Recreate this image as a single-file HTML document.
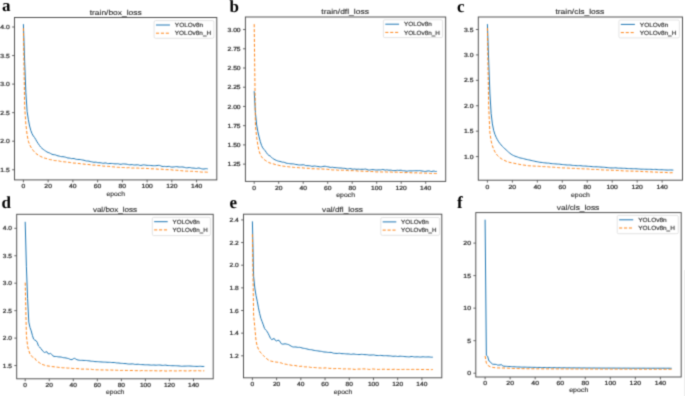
<!DOCTYPE html>
<html><head><meta charset="utf-8"><style>
html,body{margin:0;padding:0;background:#fff;}
svg{display:block;}
text{font-family:"Liberation Sans", sans-serif;fill:#2a2a2a;text-rendering:geometricPrecision;stroke:#2a2a2a;stroke-width:0.22px;}
.ep{stroke-width:0.12px;}
.lt{stroke-width:0.14px;}
.tt{stroke-width:0.12px;}
.ser{font-family:"Liberation Serif", serif;font-weight:bold;fill:#000;stroke:none;}
.bl{fill:none;stroke:#1f77b4;stroke-width:1.0;stroke-opacity:1;}
.or{fill:none;stroke:#ff7f0e;stroke-width:1.0;stroke-dasharray:3.1 1.8;stroke-opacity:0.95;}
.sp{fill:none;stroke:#4a4a4a;stroke-width:0.95;}
.tk{stroke:#4a4a4a;stroke-width:0.85;}
.lg{fill:#fff;fill-opacity:0.8;stroke:#d8d8d8;stroke-width:0.7;}
</style></head><body>
<svg width="685" height="396" viewBox="0 0 685 396">
<defs><filter id="fb" color-interpolation-filters="sRGB" filterUnits="userSpaceOnUse" x="0" y="0" width="685" height="396"><feConvolveMatrix order="3" kernelMatrix="1 4 1 4 16 4 1 4 1" divisor="36" edgeMode="duplicate"/></filter></defs>
<rect width="685" height="396" fill="#fff"/>
<g filter="url(#fb)">
<rect width="685" height="396" fill="#fff"/>
<line x1="684.5" y1="270" x2="684.5" y2="396" stroke="#eeeeee" stroke-width="1"/>
<clipPath id="clipa"><rect x="14.5" y="17.5" width="202.30" height="162.40"/></clipPath>
<g clip-path="url(#clipa)" fill="none" stroke-linejoin="round">
<polyline points="23.40,24.15 24.64,61.26 25.87,92.66 27.11,111.51 28.35,119.65 29.59,126.03 30.82,130.50 32.06,133.73 33.30,135.94 34.53,137.49 35.77,139.57 37.01,141.79 38.24,143.62 39.48,145.45 40.72,147.13 41.95,148.34 43.19,149.32 44.43,150.25 45.67,151.07 46.90,151.91 48.14,152.50 49.38,152.88 50.61,153.53 51.85,154.22 53.09,154.61 54.33,154.71 55.56,154.95 56.80,155.51 58.04,155.88 59.27,156.09 60.51,156.50 61.75,156.69 62.98,156.68 64.22,156.89 65.46,157.16 66.69,157.60 67.93,158.02 69.17,158.03 70.41,158.31 71.64,158.63 72.88,158.53 74.12,158.59 75.35,159.02 76.59,159.35 77.83,159.44 79.06,159.46 80.30,159.50 81.54,159.75 82.78,160.04 84.01,160.26 85.25,160.68 86.49,160.99 87.72,161.00 88.96,161.13 90.20,161.50 91.44,161.76 92.67,162.04 93.91,162.31 95.15,162.17 96.38,162.26 97.62,162.63 98.86,162.74 100.09,162.74 101.33,162.89 102.57,163.23 103.81,163.24 105.04,162.93 106.28,163.09 107.52,163.57 108.75,163.58 109.99,163.46 111.23,163.45 112.46,163.47 113.70,163.70 114.94,163.87 116.18,163.85 117.41,163.74 118.65,163.88 119.89,164.25 121.12,164.29 122.36,163.97 123.60,163.91 124.83,164.02 126.07,164.08 127.31,164.33 128.55,164.64 129.78,164.80 131.02,164.69 132.26,164.61 133.49,164.90 134.73,165.02 135.97,164.91 137.20,164.82 138.44,164.92 139.68,165.30 140.92,165.45 142.15,165.15 143.39,164.89 144.63,164.97 145.86,165.20 147.10,165.35 148.34,165.40 149.57,165.41 150.81,165.48 152.05,165.65 153.29,165.72 154.52,165.69 155.76,165.70 157.00,165.57 158.23,165.36 159.47,165.41 160.71,165.87 161.94,166.40 163.18,166.51 164.42,166.38 165.66,166.52 166.89,166.68 168.13,166.42 169.37,166.42 170.60,166.88 171.84,167.08 173.08,167.03 174.31,166.89 175.55,166.67 176.79,166.65 178.03,166.90 179.26,167.06 180.50,167.02 181.74,166.96 182.97,167.02 184.21,167.28 185.45,167.65 186.68,167.84 187.92,167.75 189.16,167.55 190.40,167.66 191.63,167.98 192.87,168.09 194.11,168.12 195.34,168.34 196.58,168.44 197.82,168.12 199.05,167.97 200.29,168.37 201.53,168.78 202.77,169.01 204.00,169.00 205.24,168.75 206.48,168.68 207.71,168.88" class="bl"/>
<polyline points="23.40,28.14 24.64,106.94 25.87,124.07 27.11,134.92 28.35,141.20 29.59,144.64 30.82,146.97 32.06,148.88 33.30,150.57 34.53,152.05 35.77,153.28 37.01,154.27 38.24,155.07 39.48,155.79 40.72,156.50 41.95,157.06 43.19,157.54 44.43,158.04 45.67,158.37 46.90,158.68 48.14,159.12 49.38,159.49 50.61,159.69 51.85,159.85 53.09,160.17 54.33,160.52 55.56,160.63 56.80,160.65 58.04,160.80 59.27,161.06 60.51,161.39 61.75,161.66 62.98,161.73 64.22,161.83 65.46,161.92 66.69,162.00 67.93,162.21 69.17,162.39 70.41,162.55 71.64,162.77 72.88,163.00 74.12,163.10 75.35,163.13 76.59,163.26 77.83,163.42 79.06,163.50 80.30,163.70 81.54,163.91 82.78,163.97 84.01,164.12 85.25,164.29 86.49,164.34 87.72,164.45 88.96,164.57 90.20,164.72 91.44,164.99 92.67,165.11 93.91,165.08 95.15,165.14 96.38,165.31 97.62,165.49 98.86,165.58 100.09,165.58 101.33,165.68 102.57,165.98 103.81,166.17 105.04,166.17 106.28,166.25 107.52,166.36 108.75,166.37 109.99,166.47 111.23,166.69 112.46,166.80 113.70,166.87 114.94,167.06 116.18,167.23 117.41,167.29 118.65,167.34 119.89,167.38 121.12,167.46 122.36,167.51 123.60,167.53 124.83,167.64 126.07,167.78 127.31,167.78 128.55,167.64 129.78,167.74 131.02,168.02 132.26,168.07 133.49,168.01 134.73,168.06 135.97,168.07 137.20,168.05 138.44,168.14 139.68,168.25 140.92,168.33 142.15,168.34 143.39,168.28 144.63,168.22 145.86,168.33 147.10,168.48 148.34,168.53 149.57,168.68 150.81,168.85 152.05,168.82 153.29,168.80 154.52,168.89 155.76,168.95 157.00,169.05 158.23,169.19 159.47,169.21 160.71,169.13 161.94,169.17 163.18,169.33 164.42,169.55 165.66,169.66 166.89,169.63 168.13,169.66 169.37,169.69 170.60,169.74 171.84,169.85 173.08,170.09 174.31,170.26 175.55,170.20 176.79,170.24 178.03,170.30 179.26,170.37 180.50,170.59 181.74,170.78 182.97,170.89 184.21,171.02 185.45,171.11 186.68,171.14 187.92,171.15 189.16,171.21 190.40,171.29 191.63,171.27 192.87,171.27 194.11,171.38 195.34,171.51 196.58,171.62 197.82,171.66 199.05,171.72 200.29,171.93 201.53,172.08 202.77,172.08 204.00,172.04 205.24,172.07 206.48,172.16 207.71,172.22" class="or"/>
</g>
<rect x="14.5" y="17.5" width="202.30" height="162.40" class="sp"/>
<line x1="23.40" y1="179.9" x2="23.40" y2="182.3" class="tk"/>
<text x="21.52" y="188.12" font-size="5.9" textLength="3.76" lengthAdjust="spacingAndGlyphs">0</text>
<line x1="48.14" y1="179.9" x2="48.14" y2="182.3" class="tk"/>
<text x="44.38" y="188.12" font-size="5.9" textLength="7.53" lengthAdjust="spacingAndGlyphs">20</text>
<line x1="72.88" y1="179.9" x2="72.88" y2="182.3" class="tk"/>
<text x="69.12" y="188.12" font-size="5.9" textLength="7.53" lengthAdjust="spacingAndGlyphs">40</text>
<line x1="97.62" y1="179.9" x2="97.62" y2="182.3" class="tk"/>
<text x="93.86" y="188.12" font-size="5.9" textLength="7.53" lengthAdjust="spacingAndGlyphs">60</text>
<line x1="122.36" y1="179.9" x2="122.36" y2="182.3" class="tk"/>
<text x="118.60" y="188.12" font-size="5.9" textLength="7.53" lengthAdjust="spacingAndGlyphs">80</text>
<line x1="147.10" y1="179.9" x2="147.10" y2="182.3" class="tk"/>
<text x="141.46" y="188.12" font-size="5.9" textLength="11.29" lengthAdjust="spacingAndGlyphs">100</text>
<line x1="171.84" y1="179.9" x2="171.84" y2="182.3" class="tk"/>
<text x="166.20" y="188.12" font-size="5.9" textLength="11.29" lengthAdjust="spacingAndGlyphs">120</text>
<line x1="196.58" y1="179.9" x2="196.58" y2="182.3" class="tk"/>
<text x="190.94" y="188.12" font-size="5.9" textLength="11.29" lengthAdjust="spacingAndGlyphs">140</text>
<line x1="12.1" y1="169.75" x2="14.5" y2="169.75" class="tk"/>
<text x="0.29" y="171.87" font-size="5.9" textLength="9.41" lengthAdjust="spacingAndGlyphs">1.5</text>
<line x1="12.1" y1="141.20" x2="14.5" y2="141.20" class="tk"/>
<text x="0.29" y="143.32" font-size="5.9" textLength="9.41" lengthAdjust="spacingAndGlyphs">2.0</text>
<line x1="12.1" y1="112.65" x2="14.5" y2="112.65" class="tk"/>
<text x="0.29" y="114.77" font-size="5.9" textLength="9.41" lengthAdjust="spacingAndGlyphs">2.5</text>
<line x1="12.1" y1="84.10" x2="14.5" y2="84.10" class="tk"/>
<text x="0.29" y="86.22" font-size="5.9" textLength="9.41" lengthAdjust="spacingAndGlyphs">3.0</text>
<line x1="12.1" y1="55.55" x2="14.5" y2="55.55" class="tk"/>
<text x="0.29" y="57.67" font-size="5.9" textLength="9.41" lengthAdjust="spacingAndGlyphs">3.5</text>
<line x1="12.1" y1="27.00" x2="14.5" y2="27.00" class="tk"/>
<text x="0.29" y="29.12" font-size="5.9" textLength="9.41" lengthAdjust="spacingAndGlyphs">4.0</text>
<text x="89.70" y="14.80" font-size="7.2" textLength="52.00" lengthAdjust="spacingAndGlyphs" class="tt">train/box_loss</text>
<text x="106.60" y="195.50" font-size="6.4" textLength="18.40" lengthAdjust="spacingAndGlyphs" class="ep">epoch</text>
<rect x="154.1" y="20.6" width="59.80" height="17.70" rx="1.4" class="lg"/>
<line x1="156.01" y1="25.00" x2="169.94" y2="25.00" class="bl"/>
<line x1="156.01" y1="33.20" x2="169.94" y2="33.20" class="or"/>
<text x="174.86" y="27.16" font-size="6.0" textLength="28.18" lengthAdjust="spacingAndGlyphs" class="lt">YOLOv8n</text>
<text x="174.86" y="35.36" font-size="6.0" textLength="36.20" lengthAdjust="spacingAndGlyphs" class="lt">YOLOv8n_H</text>
<text class="ser" x="1.9" y="10.9" font-size="17">a</text>
<clipPath id="clipb"><rect x="245.4" y="17.0" width="200.30" height="164.40"/></clipPath>
<g clip-path="url(#clipb)" fill="none" stroke-linejoin="round">
<polyline points="254.20,91.22 255.42,112.60 256.65,124.91 257.88,131.72 259.10,136.93 260.32,141.67 261.55,145.43 262.77,147.88 264.00,149.41 265.22,150.82 266.45,152.63 267.68,154.40 268.90,155.38 270.12,155.96 271.35,157.13 272.57,158.37 273.80,159.07 275.02,159.75 276.25,160.35 277.47,160.84 278.70,161.20 279.93,161.40 281.15,161.78 282.38,162.16 283.60,162.21 284.82,162.52 286.05,163.11 287.27,163.36 288.50,163.47 289.73,163.67 290.95,163.86 292.18,163.85 293.40,163.90 294.62,164.20 295.85,164.47 297.07,164.63 298.30,164.88 299.52,164.98 300.75,164.93 301.98,164.93 303.20,164.74 304.43,165.03 305.65,165.58 306.88,165.65 308.10,165.70 309.32,165.72 310.55,165.94 311.77,166.32 313.00,166.26 314.23,166.04 315.45,166.12 316.68,166.35 317.90,166.48 319.12,166.69 320.35,166.89 321.57,166.75 322.80,166.48 324.02,166.30 325.25,166.27 326.48,166.54 327.70,166.79 328.93,167.02 330.15,167.38 331.38,167.35 332.60,167.25 333.82,167.50 335.05,167.68 336.27,167.67 337.50,167.75 338.73,167.95 339.95,168.05 341.18,168.03 342.40,168.21 343.62,168.32 344.85,168.35 346.07,168.72 347.30,169.03 348.52,168.84 349.75,168.55 350.98,168.74 352.20,169.11 353.43,169.11 354.65,169.00 355.88,169.24 357.10,169.30 358.32,169.15 359.55,169.31 360.77,169.33 362.00,169.26 363.23,169.33 364.45,169.18 365.68,169.07 366.90,169.47 368.12,169.97 369.35,170.05 370.57,169.80 371.80,169.62 373.02,169.63 374.25,169.77 375.48,169.93 376.70,170.01 377.93,169.96 379.15,169.89 380.38,169.92 381.60,169.71 382.82,169.45 384.05,169.85 385.27,170.15 386.50,169.83 387.73,169.96 388.95,170.25 390.18,170.11 391.40,170.22 392.62,170.51 393.85,170.67 395.07,170.68 396.30,170.40 397.52,170.25 398.75,170.41 399.98,170.27 401.20,170.24 402.43,170.66 403.65,170.78 404.88,170.86 406.10,171.14 407.32,171.14 408.55,170.88 409.77,170.81 411.00,170.95 412.23,170.89 413.45,170.75 414.68,170.74 415.90,170.74 417.12,170.80 418.35,170.72 419.57,170.58 420.80,170.80 422.02,171.02 423.25,171.16 424.48,171.43 425.70,171.39 426.93,171.11 428.15,170.95 429.38,170.96 430.60,171.42 431.82,171.57 433.05,171.08 434.27,171.17 435.50,171.51 436.73,171.39" class="bl"/>
<polyline points="254.20,24.17 255.42,125.67 256.65,137.21 257.88,145.40 259.10,151.14 260.32,154.51 261.55,156.76 262.77,158.32 264.00,159.43 265.22,160.31 266.45,161.12 267.68,161.89 268.90,162.56 270.12,163.05 271.35,163.40 272.57,163.68 273.80,164.02 275.02,164.43 276.25,164.78 277.47,165.05 278.70,165.30 279.93,165.61 281.15,165.84 282.38,166.03 283.60,166.22 284.82,166.39 286.05,166.53 287.27,166.64 288.50,166.77 289.73,166.93 290.95,167.01 292.18,167.14 293.40,167.34 294.62,167.46 295.85,167.50 297.07,167.55 298.30,167.65 299.52,167.76 300.75,167.77 301.98,167.76 303.20,167.94 304.43,168.10 305.65,168.15 306.88,168.23 308.10,168.30 309.32,168.39 310.55,168.60 311.77,168.78 313.00,168.75 314.23,168.73 315.45,168.81 316.68,168.83 317.90,168.89 319.12,168.99 320.35,168.96 321.57,168.95 322.80,169.04 324.02,169.12 325.25,169.15 326.48,169.21 327.70,169.39 328.93,169.53 330.15,169.61 331.38,169.80 332.60,169.94 333.82,169.93 335.05,169.87 336.27,169.95 337.50,170.18 338.73,170.29 339.95,170.24 341.18,170.23 342.40,170.25 343.62,170.22 344.85,170.25 346.07,170.35 347.30,170.49 348.52,170.66 349.75,170.74 350.98,170.67 352.20,170.64 353.43,170.68 354.65,170.73 355.88,170.78 357.10,170.92 358.32,171.13 359.55,171.16 360.77,171.08 362.00,171.15 363.23,171.26 364.45,171.25 365.68,171.31 366.90,171.39 368.12,171.37 369.35,171.45 370.57,171.55 371.80,171.53 373.02,171.59 374.25,171.72 375.48,171.83 376.70,171.94 377.93,171.90 379.15,171.86 380.38,171.92 381.60,171.96 382.82,171.96 384.05,171.93 385.27,171.93 386.50,172.01 387.73,172.07 388.95,172.00 390.18,171.97 391.40,172.10 392.62,172.24 393.85,172.29 395.07,172.20 396.30,172.15 397.52,172.21 398.75,172.36 399.98,172.45 401.20,172.38 402.43,172.41 403.65,172.60 404.88,172.67 406.10,172.61 407.32,172.51 408.55,172.48 409.77,172.65 411.00,172.79 412.23,172.85 413.45,172.96 414.68,172.90 415.90,172.78 417.12,172.88 418.35,173.05 419.57,173.08 420.80,173.00 422.02,172.97 423.25,173.06 424.48,173.14 425.70,173.15 426.93,173.19 428.15,173.26 429.38,173.34 430.60,173.51 431.82,173.55 433.05,173.47 434.27,173.50 435.50,173.55 436.73,173.53" class="or"/>
</g>
<rect x="245.4" y="17.0" width="200.30" height="164.40" class="sp"/>
<line x1="254.20" y1="181.4" x2="254.20" y2="183.8" class="tk"/>
<text x="252.34" y="190.12" font-size="5.9" textLength="3.73" lengthAdjust="spacingAndGlyphs">0</text>
<line x1="278.70" y1="181.4" x2="278.70" y2="183.8" class="tk"/>
<text x="274.97" y="190.12" font-size="5.9" textLength="7.45" lengthAdjust="spacingAndGlyphs">20</text>
<line x1="303.20" y1="181.4" x2="303.20" y2="183.8" class="tk"/>
<text x="299.47" y="190.12" font-size="5.9" textLength="7.45" lengthAdjust="spacingAndGlyphs">40</text>
<line x1="327.70" y1="181.4" x2="327.70" y2="183.8" class="tk"/>
<text x="323.97" y="190.12" font-size="5.9" textLength="7.45" lengthAdjust="spacingAndGlyphs">60</text>
<line x1="352.20" y1="181.4" x2="352.20" y2="183.8" class="tk"/>
<text x="348.47" y="190.12" font-size="5.9" textLength="7.45" lengthAdjust="spacingAndGlyphs">80</text>
<line x1="376.70" y1="181.4" x2="376.70" y2="183.8" class="tk"/>
<text x="371.11" y="190.12" font-size="5.9" textLength="11.18" lengthAdjust="spacingAndGlyphs">100</text>
<line x1="401.20" y1="181.4" x2="401.20" y2="183.8" class="tk"/>
<text x="395.61" y="190.12" font-size="5.9" textLength="11.18" lengthAdjust="spacingAndGlyphs">120</text>
<line x1="425.70" y1="181.4" x2="425.70" y2="183.8" class="tk"/>
<text x="420.11" y="190.12" font-size="5.9" textLength="11.18" lengthAdjust="spacingAndGlyphs">140</text>
<line x1="243.0" y1="164.13" x2="245.4" y2="164.13" class="tk"/>
<text x="227.56" y="166.25" font-size="5.9" textLength="13.04" lengthAdjust="spacingAndGlyphs">1.25</text>
<line x1="243.0" y1="144.90" x2="245.4" y2="144.90" class="tk"/>
<text x="227.56" y="147.02" font-size="5.9" textLength="13.04" lengthAdjust="spacingAndGlyphs">1.50</text>
<line x1="243.0" y1="125.67" x2="245.4" y2="125.67" class="tk"/>
<text x="227.56" y="127.80" font-size="5.9" textLength="13.04" lengthAdjust="spacingAndGlyphs">1.75</text>
<line x1="243.0" y1="106.45" x2="245.4" y2="106.45" class="tk"/>
<text x="227.56" y="108.57" font-size="5.9" textLength="13.04" lengthAdjust="spacingAndGlyphs">2.00</text>
<line x1="243.0" y1="87.23" x2="245.4" y2="87.23" class="tk"/>
<text x="227.56" y="89.35" font-size="5.9" textLength="13.04" lengthAdjust="spacingAndGlyphs">2.25</text>
<line x1="243.0" y1="68.00" x2="245.4" y2="68.00" class="tk"/>
<text x="227.56" y="70.12" font-size="5.9" textLength="13.04" lengthAdjust="spacingAndGlyphs">2.50</text>
<line x1="243.0" y1="48.78" x2="245.4" y2="48.78" class="tk"/>
<text x="227.56" y="50.90" font-size="5.9" textLength="13.04" lengthAdjust="spacingAndGlyphs">2.75</text>
<line x1="243.0" y1="29.55" x2="245.4" y2="29.55" class="tk"/>
<text x="227.56" y="31.67" font-size="5.9" textLength="13.04" lengthAdjust="spacingAndGlyphs">3.00</text>
<text x="321.30" y="14.20" font-size="7.2" textLength="47.60" lengthAdjust="spacingAndGlyphs" class="tt">train/dfl_loss</text>
<text x="336.30" y="196.90" font-size="6.4" textLength="18.70" lengthAdjust="spacingAndGlyphs" class="ep">epoch</text>
<rect x="383.4" y="19.8" width="59.20" height="17.80" rx="1.4" class="lg"/>
<line x1="385.29" y1="24.20" x2="399.09" y2="24.20" class="bl"/>
<line x1="385.29" y1="32.40" x2="399.09" y2="32.40" class="or"/>
<text x="403.96" y="26.36" font-size="6.0" textLength="27.91" lengthAdjust="spacingAndGlyphs" class="lt">YOLOv8n</text>
<text x="403.96" y="34.56" font-size="6.0" textLength="35.85" lengthAdjust="spacingAndGlyphs" class="lt">YOLOv8n_H</text>
<text class="ser" x="229.4" y="11.5" font-size="17">b</text>
<clipPath id="clipc"><rect x="478.3" y="17.0" width="204.20" height="163.20"/></clipPath>
<g clip-path="url(#clipc)" fill="none" stroke-linejoin="round">
<polyline points="487.40,24.11 488.65,60.00 489.90,93.05 491.14,113.49 492.39,123.91 493.64,130.30 494.89,134.34 496.14,137.24 497.38,139.70 498.63,141.78 499.88,143.45 501.13,144.94 502.38,146.34 503.62,147.63 504.87,148.73 506.12,149.84 507.37,151.04 508.62,152.18 509.86,153.23 511.11,154.18 512.36,154.95 513.61,155.59 514.86,156.14 516.10,156.55 517.35,156.94 518.60,157.44 519.85,157.90 521.10,158.14 522.34,158.33 523.59,158.66 524.84,159.03 526.09,159.33 527.34,159.62 528.58,159.86 529.83,160.09 531.08,160.44 532.33,160.71 533.58,160.95 534.82,161.28 536.07,161.55 537.32,161.76 538.57,162.02 539.82,162.27 541.06,162.36 542.31,162.50 543.56,162.74 544.81,162.85 546.06,162.99 547.30,163.11 548.55,163.12 549.80,163.32 551.05,163.59 552.30,163.67 553.54,163.73 554.79,163.85 556.04,163.95 557.29,164.05 558.54,164.10 559.78,164.20 561.03,164.40 562.28,164.54 563.53,164.64 564.78,164.77 566.02,164.92 567.27,165.01 568.52,165.01 569.77,164.99 571.02,165.11 572.26,165.36 573.51,165.44 574.76,165.50 576.01,165.67 577.26,165.72 578.50,165.67 579.75,165.65 581.00,165.76 582.25,165.94 583.50,166.06 584.74,166.06 585.99,166.08 587.24,166.23 588.49,166.35 589.74,166.39 590.98,166.49 592.23,166.63 593.48,166.74 594.73,166.79 595.98,166.80 597.22,166.80 598.47,166.88 599.72,167.01 600.97,167.10 602.22,167.18 603.46,167.23 604.71,167.32 605.96,167.46 607.21,167.59 608.46,167.69 609.70,167.87 610.95,167.97 612.20,167.94 613.45,167.95 614.70,167.87 615.94,167.85 617.19,168.06 618.44,168.18 619.69,168.16 620.94,168.18 622.18,168.28 623.43,168.32 624.68,168.31 625.93,168.40 627.18,168.54 628.42,168.57 629.67,168.62 630.92,168.69 632.17,168.72 633.42,168.74 634.66,168.72 635.91,168.76 637.16,168.87 638.41,168.95 639.66,169.06 640.90,169.20 642.15,169.20 643.40,169.19 644.65,169.26 645.90,169.27 647.14,169.30 648.39,169.32 649.64,169.33 650.89,169.33 652.14,169.43 653.38,169.52 654.63,169.41 655.88,169.39 657.13,169.55 658.38,169.66 659.62,169.73 660.87,169.75 662.12,169.73 663.37,169.80 664.62,169.89 665.86,169.97 667.11,170.05 668.36,170.04 669.61,169.96 670.86,169.97 672.10,170.02 673.35,170.09" class="bl"/>
<polyline points="487.40,27.97 488.65,105.76 489.90,132.83 491.14,141.02 492.39,145.75 493.64,149.20 494.89,151.81 496.14,153.79 497.38,155.36 498.63,156.62 499.88,157.64 501.13,158.61 502.38,159.35 503.62,159.94 504.87,160.61 506.12,161.20 507.37,161.65 508.62,162.07 509.86,162.47 511.11,162.70 512.36,162.86 513.61,163.16 514.86,163.46 516.10,163.69 517.35,163.93 518.60,164.18 519.85,164.46 521.10,164.72 522.34,164.91 523.59,165.07 524.84,165.23 526.09,165.42 527.34,165.62 528.58,165.75 529.83,165.84 531.08,165.88 532.33,165.95 533.58,166.05 534.82,166.13 536.07,166.15 537.32,166.20 538.57,166.24 539.82,166.34 541.06,166.49 542.31,166.57 543.56,166.63 544.81,166.66 546.06,166.68 547.30,166.76 548.55,166.90 549.80,167.05 551.05,167.11 552.30,167.13 553.54,167.21 554.79,167.33 556.04,167.39 557.29,167.50 558.54,167.66 559.78,167.72 561.03,167.75 562.28,167.87 563.53,167.93 564.78,167.90 566.02,167.96 567.27,168.06 568.52,168.13 569.77,168.22 571.02,168.30 572.26,168.33 573.51,168.33 574.76,168.36 576.01,168.48 577.26,168.57 578.50,168.65 579.75,168.73 581.00,168.73 582.25,168.76 583.50,168.85 584.74,168.90 585.99,168.95 587.24,168.95 588.49,169.01 589.74,169.19 590.98,169.33 592.23,169.38 593.48,169.45 594.73,169.52 595.98,169.48 597.22,169.48 598.47,169.58 599.72,169.73 600.97,169.85 602.22,169.92 603.46,169.95 604.71,169.96 605.96,170.02 607.21,170.08 608.46,170.14 609.70,170.18 610.95,170.20 612.20,170.27 613.45,170.37 614.70,170.41 615.94,170.42 617.19,170.45 618.44,170.51 619.69,170.58 620.94,170.70 622.18,170.81 623.43,170.86 624.68,170.87 625.93,170.96 627.18,171.01 628.42,171.00 629.67,171.07 630.92,171.12 632.17,171.12 633.42,171.16 634.66,171.21 635.91,171.27 637.16,171.29 638.41,171.32 639.66,171.37 640.90,171.41 642.15,171.53 643.40,171.62 644.65,171.62 645.90,171.65 647.14,171.75 648.39,171.83 649.64,171.82 650.89,171.84 652.14,171.98 653.38,172.09 654.63,172.08 655.88,172.09 657.13,172.17 658.38,172.27 659.62,172.35 660.87,172.36 662.12,172.34 663.37,172.37 664.62,172.41 665.86,172.49 667.11,172.58 668.36,172.65 669.61,172.75 670.86,172.76 672.10,172.70 673.35,172.75" class="or"/>
</g>
<rect x="478.3" y="17.0" width="204.20" height="163.20" class="sp"/>
<line x1="487.40" y1="180.2" x2="487.40" y2="182.6" class="tk"/>
<text x="485.50" y="189.12" font-size="5.9" textLength="3.80" lengthAdjust="spacingAndGlyphs">0</text>
<line x1="512.36" y1="180.2" x2="512.36" y2="182.6" class="tk"/>
<text x="508.56" y="189.12" font-size="5.9" textLength="7.59" lengthAdjust="spacingAndGlyphs">20</text>
<line x1="537.32" y1="180.2" x2="537.32" y2="182.6" class="tk"/>
<text x="533.52" y="189.12" font-size="5.9" textLength="7.59" lengthAdjust="spacingAndGlyphs">40</text>
<line x1="562.28" y1="180.2" x2="562.28" y2="182.6" class="tk"/>
<text x="558.48" y="189.12" font-size="5.9" textLength="7.59" lengthAdjust="spacingAndGlyphs">60</text>
<line x1="587.24" y1="180.2" x2="587.24" y2="182.6" class="tk"/>
<text x="583.44" y="189.12" font-size="5.9" textLength="7.59" lengthAdjust="spacingAndGlyphs">80</text>
<line x1="612.20" y1="180.2" x2="612.20" y2="182.6" class="tk"/>
<text x="606.51" y="189.12" font-size="5.9" textLength="11.39" lengthAdjust="spacingAndGlyphs">100</text>
<line x1="637.16" y1="180.2" x2="637.16" y2="182.6" class="tk"/>
<text x="631.47" y="189.12" font-size="5.9" textLength="11.39" lengthAdjust="spacingAndGlyphs">120</text>
<line x1="662.12" y1="180.2" x2="662.12" y2="182.6" class="tk"/>
<text x="656.43" y="189.12" font-size="5.9" textLength="11.39" lengthAdjust="spacingAndGlyphs">140</text>
<line x1="475.90000000000003" y1="156.60" x2="478.3" y2="156.60" class="tk"/>
<text x="464.01" y="158.72" font-size="5.9" textLength="9.49" lengthAdjust="spacingAndGlyphs">1.0</text>
<line x1="475.90000000000003" y1="131.18" x2="478.3" y2="131.18" class="tk"/>
<text x="464.01" y="133.30" font-size="5.9" textLength="9.49" lengthAdjust="spacingAndGlyphs">1.5</text>
<line x1="475.90000000000003" y1="105.76" x2="478.3" y2="105.76" class="tk"/>
<text x="464.01" y="107.88" font-size="5.9" textLength="9.49" lengthAdjust="spacingAndGlyphs">2.0</text>
<line x1="475.90000000000003" y1="80.34" x2="478.3" y2="80.34" class="tk"/>
<text x="464.01" y="82.46" font-size="5.9" textLength="9.49" lengthAdjust="spacingAndGlyphs">2.5</text>
<line x1="475.90000000000003" y1="54.92" x2="478.3" y2="54.92" class="tk"/>
<text x="464.01" y="57.04" font-size="5.9" textLength="9.49" lengthAdjust="spacingAndGlyphs">3.0</text>
<line x1="475.90000000000003" y1="29.50" x2="478.3" y2="29.50" class="tk"/>
<text x="464.01" y="31.62" font-size="5.9" textLength="9.49" lengthAdjust="spacingAndGlyphs">3.5</text>
<text x="555.40" y="14.40" font-size="7.2" textLength="48.90" lengthAdjust="spacingAndGlyphs" class="tt">train/cls_loss</text>
<text x="571.00" y="196.60" font-size="6.4" textLength="18.80" lengthAdjust="spacingAndGlyphs" class="ep">epoch</text>
<rect x="618.9" y="20.0" width="60.50" height="17.90" rx="1.4" class="lg"/>
<line x1="620.82" y1="24.40" x2="634.89" y2="24.40" class="bl"/>
<line x1="620.82" y1="32.60" x2="634.89" y2="32.60" class="or"/>
<text x="639.84" y="26.56" font-size="6.0" textLength="28.43" lengthAdjust="spacingAndGlyphs" class="lt">YOLOv8n</text>
<text x="639.84" y="34.76" font-size="6.0" textLength="36.52" lengthAdjust="spacingAndGlyphs" class="lt">YOLOv8n_H</text>
<text class="ser" x="456.9" y="11.8" font-size="17">c</text>
<clipPath id="clipd"><rect x="16.7" y="214.3" width="196.50" height="164.50"/></clipPath>
<g clip-path="url(#clipd)" fill="none" stroke-linejoin="round">
<polyline points="25.20,221.82 26.40,266.73 27.60,298.57 28.81,322.12 30.01,327.57 31.21,330.83 32.41,335.48 33.61,339.13 34.82,340.07 36.02,340.65 37.22,342.36 38.42,345.85 39.62,347.01 40.83,348.52 42.03,350.02 43.23,351.50 44.43,352.48 45.63,352.11 46.84,351.71 48.04,353.69 49.24,353.87 50.44,353.39 51.64,354.31 52.85,355.84 54.05,356.43 55.25,356.48 56.45,356.51 57.65,356.74 58.86,356.92 60.06,356.95 61.26,357.09 62.46,357.45 63.66,357.73 64.87,357.81 66.07,357.99 67.27,358.29 68.47,358.59 69.67,359.09 70.88,359.63 72.08,359.60 73.28,358.75 74.48,358.33 75.68,358.92 76.89,359.72 78.09,360.03 79.29,360.23 80.49,360.38 81.69,360.34 82.90,360.37 84.10,360.47 85.30,360.45 86.50,360.52 87.70,360.70 88.91,360.82 90.11,361.01 91.31,361.22 92.51,361.26 93.71,361.39 94.92,361.61 96.12,361.65 97.32,361.65 98.52,361.72 99.72,361.84 100.93,361.92 102.13,362.00 103.33,362.09 104.53,362.11 105.73,362.15 106.94,362.25 108.14,362.31 109.34,362.31 110.54,362.39 111.74,362.52 112.95,362.53 114.15,362.51 115.35,362.67 116.55,362.92 117.75,362.97 118.96,363.03 120.16,363.24 121.36,363.35 122.56,363.40 123.76,363.54 124.97,363.56 126.17,363.64 127.37,363.89 128.57,364.03 129.77,364.07 130.98,364.01 132.18,363.89 133.38,364.02 134.58,364.33 135.78,364.40 136.99,364.28 138.19,364.26 139.39,364.43 140.59,364.59 141.79,364.62 143.00,364.67 144.20,364.77 145.40,364.83 146.60,364.81 147.80,364.83 149.01,364.92 150.21,365.03 151.41,365.13 152.61,365.07 153.81,364.99 155.02,365.11 156.22,365.19 157.42,365.08 158.62,365.00 159.82,365.01 161.03,365.17 162.23,365.37 163.43,365.39 164.63,365.19 165.83,365.15 167.04,365.42 168.24,365.54 169.44,365.54 170.64,365.64 171.84,365.71 173.05,365.73 174.25,365.71 175.45,365.72 176.65,365.79 177.85,365.86 179.06,365.95 180.26,366.09 181.46,366.27 182.66,366.25 183.86,366.12 185.07,366.12 186.27,366.10 187.47,366.04 188.67,366.02 189.87,366.04 191.08,366.11 192.28,366.23 193.48,366.34 194.68,366.37 195.88,366.39 197.09,366.42 198.29,366.39 199.49,366.32 200.69,366.31 201.89,366.41 203.10,366.49 204.30,366.40" class="bl"/>
<polyline points="25.20,282.65 26.40,335.36 27.60,346.34 28.81,350.64 30.01,354.07 31.21,355.77 32.41,356.91 33.61,357.30 34.82,358.19 36.02,360.18 37.22,361.42 38.42,362.12 39.62,362.85 40.83,363.71 42.03,364.31 43.23,364.74 44.43,365.16 45.63,365.58 46.84,365.82 48.04,365.97 49.24,366.16 50.44,366.39 51.64,366.57 52.85,366.66 54.05,366.77 55.25,366.95 56.45,367.07 57.65,367.22 58.86,367.39 60.06,367.49 61.26,367.62 62.46,367.75 63.66,367.81 64.87,367.81 66.07,367.89 67.27,368.06 68.47,368.10 69.67,368.04 70.88,368.20 72.08,368.43 73.28,368.47 74.48,368.46 75.68,368.50 76.89,368.63 78.09,368.69 79.29,368.75 80.49,368.99 81.69,369.12 82.90,369.08 84.10,369.09 85.30,369.12 86.50,369.12 87.70,369.20 88.91,369.24 90.11,369.12 91.31,369.25 92.51,369.52 93.71,369.62 94.92,369.73 96.12,369.81 97.32,369.77 98.52,369.81 99.72,369.89 100.93,369.93 102.13,369.93 103.33,369.95 104.53,369.95 105.73,369.93 106.94,370.04 108.14,370.11 109.34,370.05 110.54,370.02 111.74,370.07 112.95,370.11 114.15,370.12 115.35,370.19 116.55,370.28 117.75,370.28 118.96,370.37 120.16,370.44 121.36,370.41 122.56,370.40 123.76,370.37 124.97,370.40 126.17,370.45 127.37,370.45 128.57,370.53 129.77,370.56 130.98,370.44 132.18,370.46 133.38,370.51 134.58,370.55 135.78,370.68 136.99,370.66 138.19,370.64 139.39,370.78 140.59,370.72 141.79,370.53 143.00,370.59 144.20,370.74 145.40,370.70 146.60,370.68 147.80,370.76 149.01,370.75 150.21,370.72 151.41,370.68 152.61,370.64 153.81,370.71 155.02,370.79 156.22,370.80 157.42,370.86 158.62,370.90 159.82,370.89 161.03,370.80 162.23,370.61 163.43,370.59 164.63,370.88 165.83,371.09 167.04,370.94 168.24,370.81 169.44,370.82 170.64,370.77 171.84,370.77 173.05,370.86 174.25,370.91 175.45,370.93 176.65,370.94 177.85,370.95 179.06,370.84 180.26,370.72 181.46,370.73 182.66,370.71 183.86,370.79 185.07,370.91 186.27,370.88 187.47,370.88 188.67,370.93 189.87,370.82 191.08,370.65 192.28,370.64 193.48,370.78 194.68,370.84 195.88,370.78 197.09,370.67 198.29,370.65 199.49,370.77 200.69,370.84 201.89,370.85 203.10,370.89 204.30,370.80" class="or"/>
</g>
<rect x="16.7" y="214.3" width="196.50" height="164.50" class="sp"/>
<line x1="25.20" y1="378.8" x2="25.20" y2="381.2" class="tk"/>
<text x="23.37" y="386.82" font-size="5.9" textLength="3.66" lengthAdjust="spacingAndGlyphs">0</text>
<line x1="49.24" y1="378.8" x2="49.24" y2="381.2" class="tk"/>
<text x="45.58" y="386.82" font-size="5.9" textLength="7.31" lengthAdjust="spacingAndGlyphs">20</text>
<line x1="73.28" y1="378.8" x2="73.28" y2="381.2" class="tk"/>
<text x="69.62" y="386.82" font-size="5.9" textLength="7.31" lengthAdjust="spacingAndGlyphs">40</text>
<line x1="97.32" y1="378.8" x2="97.32" y2="381.2" class="tk"/>
<text x="93.66" y="386.82" font-size="5.9" textLength="7.31" lengthAdjust="spacingAndGlyphs">60</text>
<line x1="121.36" y1="378.8" x2="121.36" y2="381.2" class="tk"/>
<text x="117.70" y="386.82" font-size="5.9" textLength="7.31" lengthAdjust="spacingAndGlyphs">80</text>
<line x1="145.40" y1="378.8" x2="145.40" y2="381.2" class="tk"/>
<text x="139.92" y="386.82" font-size="5.9" textLength="10.97" lengthAdjust="spacingAndGlyphs">100</text>
<line x1="169.44" y1="378.8" x2="169.44" y2="381.2" class="tk"/>
<text x="163.96" y="386.82" font-size="5.9" textLength="10.97" lengthAdjust="spacingAndGlyphs">120</text>
<line x1="193.48" y1="378.8" x2="193.48" y2="381.2" class="tk"/>
<text x="188.00" y="386.82" font-size="5.9" textLength="10.97" lengthAdjust="spacingAndGlyphs">140</text>
<line x1="14.299999999999999" y1="365.55" x2="16.7" y2="365.55" class="tk"/>
<text x="2.76" y="367.67" font-size="5.9" textLength="9.14" lengthAdjust="spacingAndGlyphs">1.5</text>
<line x1="14.299999999999999" y1="338.10" x2="16.7" y2="338.10" class="tk"/>
<text x="2.76" y="340.22" font-size="5.9" textLength="9.14" lengthAdjust="spacingAndGlyphs">2.0</text>
<line x1="14.299999999999999" y1="310.65" x2="16.7" y2="310.65" class="tk"/>
<text x="2.76" y="312.77" font-size="5.9" textLength="9.14" lengthAdjust="spacingAndGlyphs">2.5</text>
<line x1="14.299999999999999" y1="283.20" x2="16.7" y2="283.20" class="tk"/>
<text x="2.76" y="285.32" font-size="5.9" textLength="9.14" lengthAdjust="spacingAndGlyphs">3.0</text>
<line x1="14.299999999999999" y1="255.75" x2="16.7" y2="255.75" class="tk"/>
<text x="2.76" y="257.87" font-size="5.9" textLength="9.14" lengthAdjust="spacingAndGlyphs">3.5</text>
<line x1="14.299999999999999" y1="228.30" x2="16.7" y2="228.30" class="tk"/>
<text x="2.76" y="230.42" font-size="5.9" textLength="9.14" lengthAdjust="spacingAndGlyphs">4.0</text>
<text x="92.90" y="211.90" font-size="7.2" textLength="44.20" lengthAdjust="spacingAndGlyphs" class="tt">val/box_loss</text>
<text x="105.90" y="394.30" font-size="6.4" textLength="18.40" lengthAdjust="spacingAndGlyphs" class="ep">epoch</text>
<rect x="152.3" y="217.3" width="58.10" height="18.30" rx="1.4" class="lg"/>
<line x1="154.15" y1="221.70" x2="167.70" y2="221.70" class="bl"/>
<line x1="154.15" y1="229.90" x2="167.70" y2="229.90" class="or"/>
<text x="172.47" y="223.86" font-size="6.0" textLength="27.38" lengthAdjust="spacingAndGlyphs" class="lt">YOLOv8n</text>
<text x="172.47" y="232.06" font-size="6.0" textLength="35.18" lengthAdjust="spacingAndGlyphs" class="lt">YOLOv8n_H</text>
<text class="ser" x="1.6" y="207.6" font-size="17">d</text>
<clipPath id="clipe"><rect x="243.5" y="214.2" width="198.30" height="163.60"/></clipPath>
<g clip-path="url(#clipe)" fill="none" stroke-linejoin="round">
<polyline points="252.40,221.37 253.61,276.52 254.82,288.03 256.03,295.47 257.24,301.21 258.45,307.83 259.66,313.54 260.87,318.31 262.09,321.56 263.30,324.83 264.51,328.40 265.72,330.01 266.93,331.20 268.14,333.32 269.35,335.80 270.56,338.45 271.77,339.60 272.98,339.01 274.19,338.50 275.40,340.41 276.61,340.96 277.82,340.33 279.04,340.34 280.25,342.11 281.46,343.85 282.67,344.15 283.88,344.00 285.09,343.81 286.30,344.04 287.51,344.33 288.72,344.70 289.93,345.41 291.14,346.13 292.35,346.76 293.56,347.03 294.77,346.97 295.99,346.98 297.20,347.26 298.41,347.36 299.62,347.30 300.83,347.57 302.04,347.97 303.25,348.25 304.46,348.42 305.67,348.66 306.88,348.94 308.09,349.27 309.30,349.57 310.51,349.65 311.72,349.78 312.94,350.11 314.15,350.39 315.36,350.59 316.57,350.73 317.78,350.88 318.99,351.08 320.20,351.22 321.41,351.37 322.62,351.68 323.83,351.96 325.04,352.04 326.25,352.12 327.46,352.32 328.67,352.44 329.88,352.37 331.10,352.40 332.31,352.76 333.52,353.21 334.73,353.33 335.94,353.37 337.15,353.46 338.36,353.35 339.57,353.27 340.78,353.51 341.99,353.68 343.20,353.65 344.41,353.70 345.62,353.84 346.83,353.94 348.05,353.94 349.26,354.03 350.47,354.31 351.68,354.30 352.89,354.04 354.10,354.04 355.31,354.30 356.52,354.45 357.73,354.50 358.94,354.58 360.15,354.48 361.36,354.35 362.57,354.42 363.78,354.53 365.00,354.66 366.21,354.67 367.42,354.74 368.63,355.00 369.84,355.09 371.05,355.05 372.26,354.98 373.47,354.92 374.68,355.13 375.89,355.41 377.10,355.49 378.31,355.55 379.52,355.48 380.73,355.38 381.94,355.55 383.16,355.70 384.37,355.70 385.58,355.67 386.79,355.71 388.00,355.84 389.21,355.87 390.42,355.92 391.63,356.14 392.84,356.31 394.05,356.26 395.26,356.16 396.47,356.30 397.68,356.49 398.89,356.35 400.11,356.18 401.32,356.30 402.53,356.40 403.74,356.46 404.95,356.61 406.16,356.73 407.37,356.76 408.58,356.88 409.79,356.85 411.00,356.54 412.21,356.53 413.42,356.77 414.63,356.91 415.84,356.92 417.06,356.85 418.27,356.87 419.48,356.99 420.69,357.09 421.90,356.92 423.11,356.79 424.32,356.92 425.53,356.99 426.74,356.97 427.95,356.91 429.16,356.93 430.37,357.10 431.58,357.19 432.79,357.16" class="bl"/>
<polyline points="252.40,234.28 253.61,315.03 254.82,327.48 256.03,340.81 257.24,346.20 258.45,349.16 259.66,351.30 260.87,352.85 262.09,354.16 263.30,355.43 264.51,356.71 265.72,357.84 266.93,358.86 268.14,359.80 269.35,360.54 270.56,361.01 271.77,361.28 272.98,361.55 274.19,361.79 275.40,362.01 276.61,362.15 277.82,362.27 279.04,362.54 280.25,362.73 281.46,363.01 282.67,363.59 283.88,363.96 285.09,364.10 286.30,364.32 287.51,364.61 288.72,364.78 289.93,364.91 291.14,365.20 292.35,365.47 293.56,365.45 294.77,365.46 295.99,365.71 297.20,365.99 298.41,366.24 299.62,366.39 300.83,366.28 302.04,366.20 303.25,366.49 304.46,366.84 305.67,366.87 306.88,366.87 308.09,366.95 309.30,367.09 310.51,367.36 311.72,367.47 312.94,367.43 314.15,367.50 315.36,367.63 316.57,367.70 317.78,367.85 318.99,367.96 320.20,367.95 321.41,368.09 322.62,368.21 323.83,368.05 325.04,367.91 326.25,367.95 327.46,368.05 328.67,368.26 329.88,368.42 331.10,368.33 332.31,368.40 333.52,368.62 334.73,368.62 335.94,368.52 337.15,368.45 338.36,368.49 339.57,368.56 340.78,368.67 341.99,368.88 343.20,368.96 344.41,368.87 345.62,368.85 346.83,368.88 348.05,368.93 349.26,368.96 350.47,368.93 351.68,368.98 352.89,369.14 354.10,369.33 355.31,369.42 356.52,369.31 357.73,369.12 358.94,369.05 360.15,369.09 361.36,369.04 362.57,368.92 363.78,368.89 365.00,368.98 366.21,369.03 367.42,369.16 368.63,369.39 369.84,369.44 371.05,369.25 372.26,369.03 373.47,369.02 374.68,369.17 375.89,369.24 377.10,369.35 378.31,369.46 379.52,369.36 380.73,369.35 381.94,369.34 383.16,369.23 384.37,369.26 385.58,369.31 386.79,369.35 388.00,369.40 389.21,369.34 390.42,369.30 391.63,369.43 392.84,369.43 394.05,369.24 395.26,369.28 396.47,369.42 397.68,369.48 398.89,369.50 400.11,369.41 401.32,369.39 402.53,369.47 403.74,369.36 404.95,369.30 406.16,369.38 407.37,369.42 408.58,369.45 409.79,369.54 411.00,369.52 412.21,369.39 413.42,369.41 414.63,369.46 415.84,369.43 417.06,369.39 418.27,369.42 419.48,369.50 420.69,369.48 421.90,369.51 423.11,369.50 424.32,369.35 425.53,369.36 426.74,369.52 427.95,369.59 429.16,369.64 430.37,369.68 431.58,369.61 432.79,369.50" class="or"/>
</g>
<rect x="243.5" y="214.2" width="198.30" height="163.60" class="sp"/>
<line x1="252.40" y1="377.8" x2="252.40" y2="380.2" class="tk"/>
<text x="250.56" y="386.12" font-size="5.9" textLength="3.68" lengthAdjust="spacingAndGlyphs">0</text>
<line x1="276.61" y1="377.8" x2="276.61" y2="380.2" class="tk"/>
<text x="272.93" y="386.12" font-size="5.9" textLength="7.37" lengthAdjust="spacingAndGlyphs">20</text>
<line x1="300.83" y1="377.8" x2="300.83" y2="380.2" class="tk"/>
<text x="297.14" y="386.12" font-size="5.9" textLength="7.37" lengthAdjust="spacingAndGlyphs">40</text>
<line x1="325.04" y1="377.8" x2="325.04" y2="380.2" class="tk"/>
<text x="321.36" y="386.12" font-size="5.9" textLength="7.37" lengthAdjust="spacingAndGlyphs">60</text>
<line x1="349.26" y1="377.8" x2="349.26" y2="380.2" class="tk"/>
<text x="345.57" y="386.12" font-size="5.9" textLength="7.37" lengthAdjust="spacingAndGlyphs">80</text>
<line x1="373.47" y1="377.8" x2="373.47" y2="380.2" class="tk"/>
<text x="367.95" y="386.12" font-size="5.9" textLength="11.05" lengthAdjust="spacingAndGlyphs">100</text>
<line x1="397.68" y1="377.8" x2="397.68" y2="380.2" class="tk"/>
<text x="392.16" y="386.12" font-size="5.9" textLength="11.05" lengthAdjust="spacingAndGlyphs">120</text>
<line x1="421.90" y1="377.8" x2="421.90" y2="380.2" class="tk"/>
<text x="416.37" y="386.12" font-size="5.9" textLength="11.05" lengthAdjust="spacingAndGlyphs">140</text>
<line x1="241.1" y1="355.80" x2="243.5" y2="355.80" class="tk"/>
<text x="229.49" y="357.92" font-size="5.9" textLength="9.21" lengthAdjust="spacingAndGlyphs">1.2</text>
<line x1="241.1" y1="333.15" x2="243.5" y2="333.15" class="tk"/>
<text x="229.49" y="335.27" font-size="5.9" textLength="9.21" lengthAdjust="spacingAndGlyphs">1.4</text>
<line x1="241.1" y1="310.50" x2="243.5" y2="310.50" class="tk"/>
<text x="229.49" y="312.62" font-size="5.9" textLength="9.21" lengthAdjust="spacingAndGlyphs">1.6</text>
<line x1="241.1" y1="287.85" x2="243.5" y2="287.85" class="tk"/>
<text x="229.49" y="289.97" font-size="5.9" textLength="9.21" lengthAdjust="spacingAndGlyphs">1.8</text>
<line x1="241.1" y1="265.20" x2="243.5" y2="265.20" class="tk"/>
<text x="229.49" y="267.32" font-size="5.9" textLength="9.21" lengthAdjust="spacingAndGlyphs">2.0</text>
<line x1="241.1" y1="242.55" x2="243.5" y2="242.55" class="tk"/>
<text x="229.49" y="244.67" font-size="5.9" textLength="9.21" lengthAdjust="spacingAndGlyphs">2.2</text>
<line x1="241.1" y1="219.90" x2="243.5" y2="219.90" class="tk"/>
<text x="229.49" y="222.02" font-size="5.9" textLength="9.21" lengthAdjust="spacingAndGlyphs">2.4</text>
<text x="322.00" y="211.60" font-size="7.2" textLength="41.00" lengthAdjust="spacingAndGlyphs" class="tt">val/dfl_loss</text>
<text x="333.80" y="393.60" font-size="6.4" textLength="18.40" lengthAdjust="spacingAndGlyphs" class="ep">epoch</text>
<rect x="380.8" y="217.5" width="58.80" height="17.80" rx="1.4" class="lg"/>
<line x1="382.66" y1="221.90" x2="396.31" y2="221.90" class="bl"/>
<line x1="382.66" y1="230.10" x2="396.31" y2="230.10" class="or"/>
<text x="401.12" y="224.06" font-size="6.0" textLength="27.58" lengthAdjust="spacingAndGlyphs" class="lt">YOLOv8n</text>
<text x="401.12" y="232.26" font-size="6.0" textLength="35.43" lengthAdjust="spacingAndGlyphs" class="lt">YOLOv8n_H</text>
<text class="ser" x="229.4" y="207.9" font-size="17">e</text>
<clipPath id="clipf"><rect x="475.8" y="212.6" width="205.40" height="164.40"/></clipPath>
<g clip-path="url(#clipf)" fill="none" stroke-linejoin="round">
<polyline points="485.10,219.68 486.35,355.31 487.60,356.29 488.86,360.84 490.11,361.62 491.36,363.31 492.61,364.17 493.86,364.31 495.12,364.30 496.37,364.46 497.62,365.08 498.87,365.08 500.12,364.98 501.38,364.50 502.63,365.98 503.88,366.19 505.13,366.28 506.38,366.35 507.64,366.43 508.89,366.50 510.14,366.55 511.39,366.62 512.64,366.70 513.90,366.76 515.15,366.81 516.40,366.88 517.65,366.95 518.90,366.99 520.16,367.06 521.41,367.13 522.66,367.14 523.91,367.14 525.16,367.15 526.42,367.20 527.67,367.24 528.92,367.26 530.17,367.29 531.42,367.32 532.68,367.34 533.93,367.36 535.18,367.39 536.43,367.43 537.68,367.44 538.94,367.44 540.19,367.46 541.44,367.50 542.69,367.54 543.94,367.54 545.20,367.55 546.45,367.58 547.70,367.59 548.95,367.59 550.20,367.62 551.46,367.65 552.71,367.65 553.96,367.65 555.21,367.67 556.46,367.71 557.72,367.73 558.97,367.73 560.22,367.74 561.47,367.77 562.72,367.78 563.98,367.77 565.23,367.78 566.48,367.80 567.73,367.82 568.98,367.85 570.24,367.85 571.49,367.85 572.74,367.86 573.99,367.88 575.24,367.88 576.50,367.88 577.75,367.90 579.00,367.92 580.25,367.93 581.50,367.95 582.76,367.96 584.01,367.96 585.26,367.95 586.51,367.97 587.76,368.00 589.02,367.99 590.27,368.00 591.52,368.02 592.77,368.02 594.02,368.02 595.28,368.02 596.53,368.03 597.78,368.05 599.03,368.05 600.28,368.05 601.54,368.07 602.79,368.09 604.04,368.10 605.29,368.09 606.54,368.08 607.80,368.07 609.05,368.09 610.30,368.09 611.55,368.08 612.80,368.09 614.06,368.10 615.31,368.10 616.56,368.12 617.81,368.12 619.06,368.12 620.32,368.14 621.57,368.16 622.82,368.17 624.07,368.15 625.32,368.14 626.58,368.15 627.83,368.15 629.08,368.16 630.33,368.19 631.58,368.21 632.84,368.20 634.09,368.20 635.34,368.21 636.59,368.20 637.84,368.19 639.10,368.20 640.35,368.20 641.60,368.21 642.85,368.20 644.10,368.20 645.36,368.21 646.61,368.23 647.86,368.22 649.11,368.22 650.36,368.23 651.62,368.24 652.87,368.23 654.12,368.22 655.37,368.22 656.62,368.23 657.88,368.24 659.13,368.24 660.38,368.22 661.63,368.21 662.88,368.22 664.14,368.22 665.39,368.23 666.64,368.25 667.89,368.23 669.14,368.23 670.40,368.25 671.65,368.27" class="bl"/>
<polyline points="485.10,355.96 486.35,363.12 487.60,365.07 488.86,366.04 490.11,366.66 491.36,367.10 492.61,367.37 493.86,367.57 495.12,367.71 496.37,367.81 497.62,367.88 498.87,367.91 500.12,367.95 501.38,367.97 502.63,367.99 503.88,368.03 505.13,368.07 506.38,368.12 507.64,368.17 508.89,368.23 510.14,368.30 511.39,368.36 512.64,368.41 513.90,368.44 515.15,368.47 516.40,368.51 517.65,368.56 518.90,368.61 520.16,368.63 521.41,368.64 522.66,368.66 523.91,368.68 525.16,368.71 526.42,368.74 527.67,368.76 528.92,368.77 530.17,368.77 531.42,368.79 532.68,368.79 533.93,368.80 535.18,368.81 536.43,368.83 537.68,368.83 538.94,368.83 540.19,368.83 541.44,368.83 542.69,368.86 543.94,368.87 545.20,368.85 546.45,368.85 547.70,368.86 548.95,368.87 550.20,368.88 551.46,368.90 552.71,368.90 553.96,368.89 555.21,368.89 556.46,368.90 557.72,368.91 558.97,368.91 560.22,368.92 561.47,368.92 562.72,368.91 563.98,368.92 565.23,368.93 566.48,368.94 567.73,368.94 568.98,368.94 570.24,368.95 571.49,368.96 572.74,368.96 573.99,368.96 575.24,368.97 576.50,368.98 577.75,368.99 579.00,368.99 580.25,368.99 581.50,368.99 582.76,369.01 584.01,369.02 585.26,369.03 586.51,369.03 587.76,369.03 589.02,369.03 590.27,369.03 591.52,369.03 592.77,369.04 594.02,369.04 595.28,369.05 596.53,369.06 597.78,369.06 599.03,369.07 600.28,369.07 601.54,369.08 602.79,369.09 604.04,369.09 605.29,369.09 606.54,369.09 607.80,369.10 609.05,369.10 610.30,369.11 611.55,369.12 612.80,369.12 614.06,369.12 615.31,369.11 616.56,369.11 617.81,369.13 619.06,369.13 620.32,369.12 621.57,369.13 622.82,369.14 624.07,369.14 625.32,369.14 626.58,369.15 627.83,369.16 629.08,369.16 630.33,369.16 631.58,369.16 632.84,369.17 634.09,369.19 635.34,369.20 636.59,369.20 637.84,369.19 639.10,369.19 640.35,369.19 641.60,369.20 642.85,369.20 644.10,369.22 645.36,369.23 646.61,369.23 647.86,369.23 649.11,369.23 650.36,369.24 651.62,369.24 652.87,369.25 654.12,369.25 655.37,369.25 656.62,369.25 657.88,369.26 659.13,369.26 660.38,369.27 661.63,369.28 662.88,369.29 664.14,369.28 665.39,369.27 666.64,369.27 667.89,369.28 669.14,369.29 670.40,369.30 671.65,369.30" class="or"/>
</g>
<rect x="475.8" y="212.6" width="205.40" height="164.40" class="sp"/>
<line x1="485.10" y1="377.0" x2="485.10" y2="379.4" class="tk"/>
<text x="483.20" y="385.12" font-size="5.9" textLength="3.81" lengthAdjust="spacingAndGlyphs">0</text>
<line x1="510.14" y1="377.0" x2="510.14" y2="379.4" class="tk"/>
<text x="506.33" y="385.12" font-size="5.9" textLength="7.62" lengthAdjust="spacingAndGlyphs">20</text>
<line x1="535.18" y1="377.0" x2="535.18" y2="379.4" class="tk"/>
<text x="531.37" y="385.12" font-size="5.9" textLength="7.62" lengthAdjust="spacingAndGlyphs">40</text>
<line x1="560.22" y1="377.0" x2="560.22" y2="379.4" class="tk"/>
<text x="556.41" y="385.12" font-size="5.9" textLength="7.62" lengthAdjust="spacingAndGlyphs">60</text>
<line x1="585.26" y1="377.0" x2="585.26" y2="379.4" class="tk"/>
<text x="581.45" y="385.12" font-size="5.9" textLength="7.62" lengthAdjust="spacingAndGlyphs">80</text>
<line x1="610.30" y1="377.0" x2="610.30" y2="379.4" class="tk"/>
<text x="604.59" y="385.12" font-size="5.9" textLength="11.43" lengthAdjust="spacingAndGlyphs">100</text>
<line x1="635.34" y1="377.0" x2="635.34" y2="379.4" class="tk"/>
<text x="629.63" y="385.12" font-size="5.9" textLength="11.43" lengthAdjust="spacingAndGlyphs">120</text>
<line x1="660.38" y1="377.0" x2="660.38" y2="379.4" class="tk"/>
<text x="654.67" y="385.12" font-size="5.9" textLength="11.43" lengthAdjust="spacingAndGlyphs">140</text>
<line x1="473.40000000000003" y1="373.20" x2="475.8" y2="373.20" class="tk"/>
<text x="467.19" y="375.32" font-size="5.9" textLength="3.81" lengthAdjust="spacingAndGlyphs">0</text>
<line x1="473.40000000000003" y1="340.68" x2="475.8" y2="340.68" class="tk"/>
<text x="467.19" y="342.80" font-size="5.9" textLength="3.81" lengthAdjust="spacingAndGlyphs">5</text>
<line x1="473.40000000000003" y1="308.15" x2="475.8" y2="308.15" class="tk"/>
<text x="463.38" y="310.27" font-size="5.9" textLength="7.62" lengthAdjust="spacingAndGlyphs">10</text>
<line x1="473.40000000000003" y1="275.62" x2="475.8" y2="275.62" class="tk"/>
<text x="463.38" y="277.75" font-size="5.9" textLength="7.62" lengthAdjust="spacingAndGlyphs">15</text>
<line x1="473.40000000000003" y1="243.10" x2="475.8" y2="243.10" class="tk"/>
<text x="463.38" y="245.22" font-size="5.9" textLength="7.62" lengthAdjust="spacingAndGlyphs">20</text>
<text x="556.80" y="209.80" font-size="7.2" textLength="42.40" lengthAdjust="spacingAndGlyphs" class="tt">val/cls_loss</text>
<text x="569.20" y="392.40" font-size="6.4" textLength="19.10" lengthAdjust="spacingAndGlyphs" class="ep">epoch</text>
<rect x="617.2" y="215.4" width="61.10" height="18.30" rx="1.4" class="lg"/>
<line x1="619.13" y1="219.80" x2="633.24" y2="219.80" class="bl"/>
<line x1="619.13" y1="228.00" x2="633.24" y2="228.00" class="or"/>
<text x="638.21" y="221.96" font-size="6.0" textLength="28.52" lengthAdjust="spacingAndGlyphs" class="lt">YOLOv8n</text>
<text x="638.21" y="230.16" font-size="6.0" textLength="36.64" lengthAdjust="spacingAndGlyphs" class="lt">YOLOv8n_H</text>
<text class="ser" x="456.9" y="207.9" font-size="17">f</text>
</g>
</svg>
</body></html>
